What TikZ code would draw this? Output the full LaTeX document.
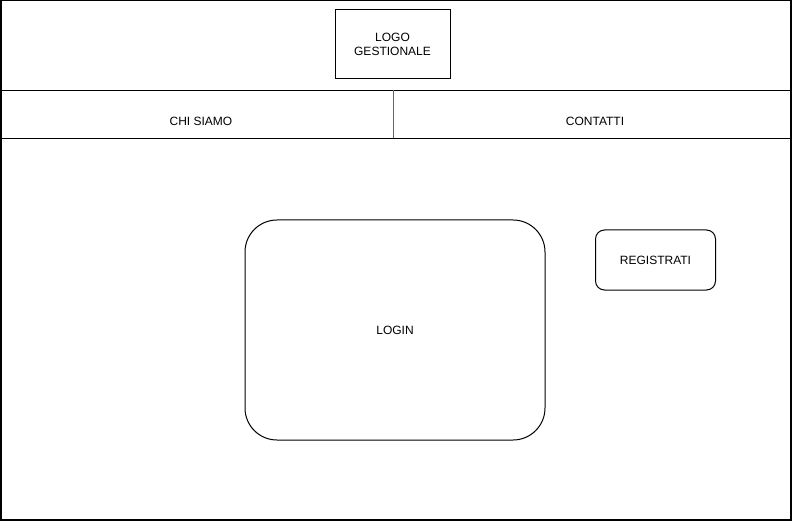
\documentclass[tikz,border=0pt]{standalone}
\usepackage{fontspec}
\setmainfont{Liberation Sans}
\begin{document}
\begin{tikzpicture}[x=1pt,y=-1pt,
  box/.style={draw=black,line width=1pt,inner sep=0pt,outer sep=0pt,font=\fontsize{12}{14}\selectfont,align=center},
  lbl/.style={inner sep=0pt,font=\fontsize{12}{14}\selectfont,align=center}]
\useasboundingbox (0,0) rectangle (792,521);
\fill[white] (0,0) rectangle (792,521);
% outer frame regions
\node[box,minimum width=790pt,minimum height=90pt,anchor=north west] (header) at (1,0.5) {};
\node[box,minimum width=790pt,minimum height=48pt,anchor=north west] (nav) at (1,90.5) {};
\node[box,minimum width=790pt,minimum height=381.5pt,anchor=north west,line width=1.5pt] (body) at (1,138.5) {};
\draw[black,line width=2pt] (body.north west) -- (header.north west);
\draw[black,line width=1.5pt] (1,0.75) -- (1,520) -- (790.5,520) -- (790.5,0.75);
% divider
\coordinate (dtop) at (393,90.5);
\coordinate (dbot) at (393,138.5);
\draw[gray!80!black,line width=1pt] (dtop) -- (dbot);
\node[lbl] (chi) at (201,121) {CHI SIAMO};
\node[lbl] (contatti) at (595,121) {CONTATTI};
% logo
\node[box,minimum width=115pt,minimum height=69pt] (logo) at (392.5,44.5) {LOGO\\GESTIONALE};
% login
\node[box,rounded corners=32pt,minimum width=300pt,minimum height=220pt] (login) at (395,330) {LOGIN};
% registrati
\node[box,rounded corners=9pt,minimum width=120pt,minimum height=60pt] (reg) at (655.5,260) {REGISTRATI};
\end{tikzpicture}
\end{document}
